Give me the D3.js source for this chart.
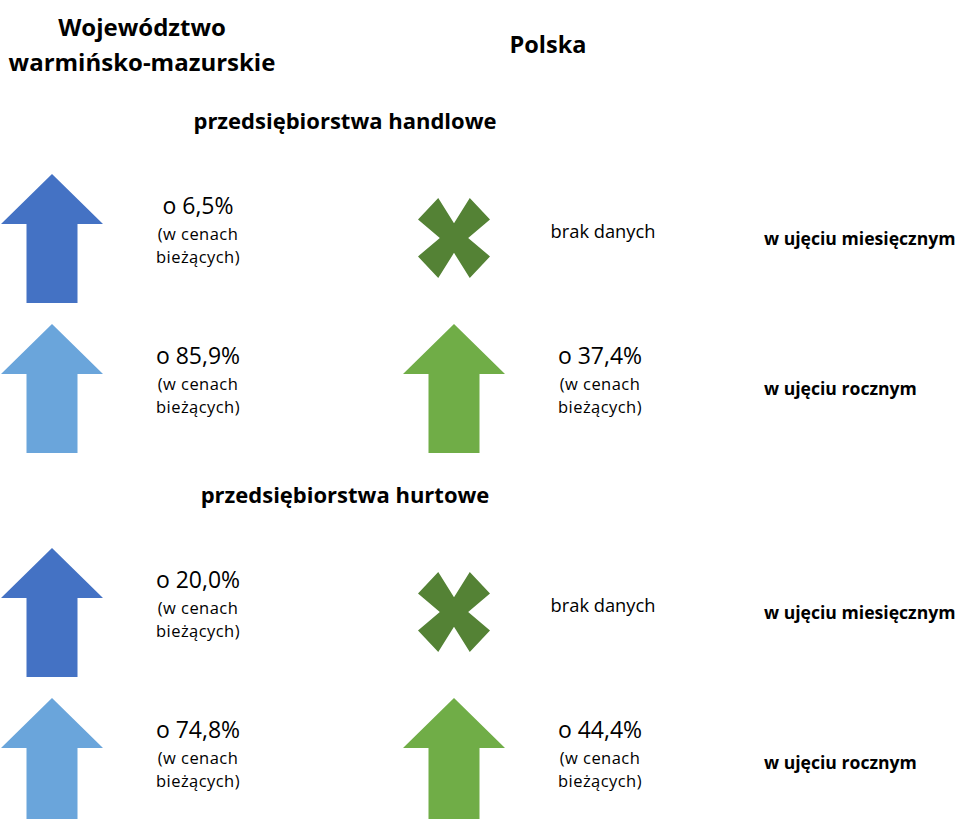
<!DOCTYPE html>
<html>
<head>
<meta charset="utf-8">
<script src="https://cdn.jsdelivr.net/npm/d3@7"></script>
<style>
  body { margin: 0; background: #fff; }
  text { font-family: "Open Sans", Calibri, sans-serif; fill: #000; }
</style>
</head>
<body>
<div id="infographic"></div>
<script>
const width = 960, height = 819;

// data
const sections = ["przedsiębiorstwa handlowe", "przedsiębiorstwa hurtowe"];
const periods = ["w ujęciu miesięcznym", "w ujęciu rocznym"];
// region values per section: [monthly, yearly], null = brak danych
const regionValues = [[6.5, 85.9], [20.0, 74.8]];
const polandValues = [[null, 37.4], [null, 44.4]];
const columns = ["Województwo warmińsko-mazurskie", "Polska"];
const noteLines = ["(w cenach", "bieżących)"];

const svg = d3.select("#infographic")
  .append("svg")
  .attr("width", width)
  .attr("height", height);

// column scale (centre of arrow) and text offset
const x = d3.scaleOrdinal().domain(columns).range([52, 454]);
const textOffset = 146;

// row scales: section offset + period offset (arrow tip y)
const ySection = d3.scaleOrdinal().domain(sections).range([174, 548]);
const yPeriod = d3.scaleOrdinal().domain(periods).range([0, 150]);

// colours per column / period
const arrowColor = {
  "Województwo warmińsko-mazurskie": ["#4472C4", "#6AA5DB"],
  "Polska": ["#70AD47", "#70AD47"]
};
const crossColor = "#548235";

// column headers
svg.append("text")
  .attr("x", 142).attr("y", 36)
  .attr("text-anchor", "middle")
  .style("font-size", "24px").style("font-weight", "bold")
  .text("Województwo");
svg.append("text")
  .attr("x", 142).attr("y", 71)
  .attr("text-anchor", "middle")
  .style("font-size", "24px").style("font-weight", "bold")
  .text("warmińsko-mazurskie");
svg.append("text")
  .attr("x", 548).attr("y", 53)
  .attr("text-anchor", "middle")
  .style("font-size", "23.5px").style("font-weight", "bold")
  .text("Polska");

// up-arrow path relative to tip
function arrowPath() {
  const p = d3.path();
  p.moveTo(0, 0);
  p.lineTo(51, 50);
  p.lineTo(25.5, 50);
  p.lineTo(25.5, 129);
  p.lineTo(-25.5, 129);
  p.lineTo(-25.5, 50);
  p.lineTo(-51, 50);
  p.closePath();
  return p.toString();
}

// X mark relative to centre
function crossPath() {
  const w = 36, h = 40, t = 13.5;
  const p = d3.path();
  p.moveTo(-w, -h + t * 1.6);
  p.lineTo(-w + t * 1.5, -h);
  p.lineTo(0, -t * 1.1);
  p.lineTo(w - t * 1.5, -h);
  p.lineTo(w, -h + t * 1.6);
  p.lineTo(t * 1.05, 0);
  p.lineTo(w, h - t * 1.6);
  p.lineTo(w - t * 1.5, h);
  p.lineTo(0, t * 1.1);
  p.lineTo(-w + t * 1.5, h);
  p.lineTo(-w, h - t * 1.6);
  p.lineTo(-t * 1.05, 0);
  p.closePath();
  return p.toString();
}

const fmt = v => "o " + d3.format(".1f")(v).replace(".", ",") + "%";

sections.forEach((sec, si) => {
  // section title
  svg.append("text")
    .attr("x", 345).attr("y", ySection(sec) - 45)
    .attr("text-anchor", "middle")
    .style("font-size", "22px").style("font-weight", "bold")
    .text(sec);

  periods.forEach((per, pi) => {
    const top = ySection(sec) + yPeriod(per);

    [regionValues[si][pi], polandValues[si][pi]].forEach((v, ci) => {
      const col = columns[ci];
      const cx = x(col);
      const g = svg.append("g");
      if (v === null) {
        g.append("path")
          .attr("d", crossPath())
          .attr("transform", `translate(${cx},${top + 64})`)
          .attr("fill", crossColor);
        g.append("text")
          .attr("x", cx + 149).attr("y", top + 64)
          .attr("text-anchor", "middle")
          .style("font-size", "18.3px")
          .text("brak danych");
      } else {
        g.append("path")
          .attr("d", arrowPath())
          .attr("transform", `translate(${cx},${top})`)
          .attr("fill", arrowColor[col][pi]);
        g.append("text")
          .attr("x", cx + textOffset).attr("y", top + 40)
          .attr("text-anchor", "middle")
          .style("font-size", "23px")
          .text(fmt(v));
        noteLines.forEach((line, li) => {
          g.append("text")
            .attr("x", cx + textOffset).attr("y", top + 66 + li * 22.6)
            .attr("text-anchor", "middle")
            .style("font-size", "16.5px")
            .style("letter-spacing", "0.45px")
            .text(line);
        });
      }
    });

    // period label
    svg.append("text")
      .attr("x", 764).attr("y", top + 71)
      .style("font-size", "17.6px").style("font-weight", "bold")
      .text(per);
  });
});
</script>
</body>
</html>
